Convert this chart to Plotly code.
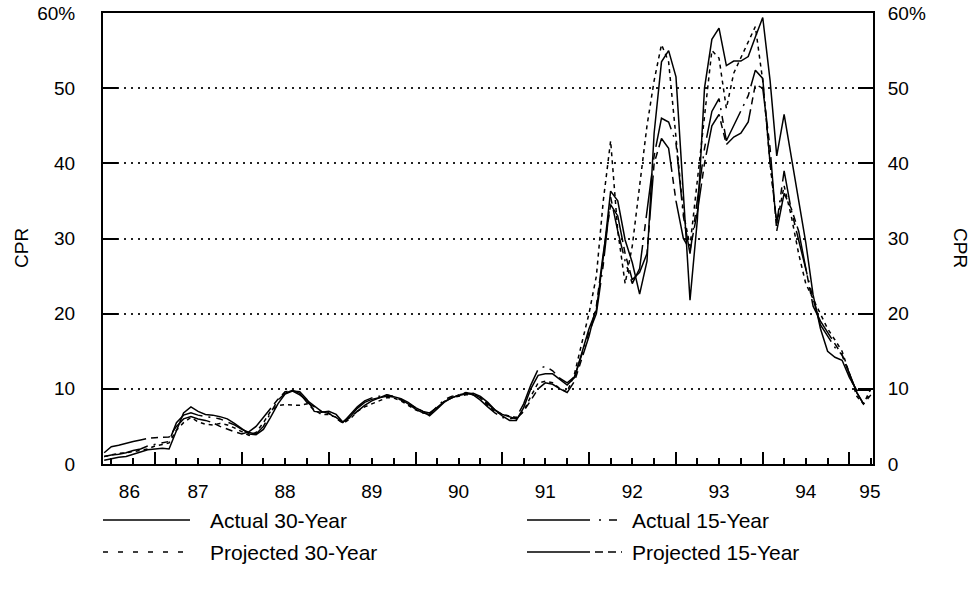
import pandas as pd
import plotly.graph_objects as go

# ---------------- data (monthly CPR, %) ----------------
months = pd.date_range("1986-06-01", "1995-04-01", freq="MS").strftime("%Y-%m-%d").tolist()

actual_30 = [0.5, 0.7, 0.9, 1.0, 1.3, 1.6, 1.9, 2.0, 2.1, 2.0, 4.5, 6.8, 7.6, 7.0, 6.6, 6.5, 6.3, 6.0, 5.4,
             4.7, 4.0, 3.9, 4.6, 6.2, 8.0, 9.3, 9.7, 9.6, 8.6, 7.0, 6.9, 7.0, 6.6, 5.6, 6.3, 7.4, 8.2, 8.6,
             8.8, 9.2, 9.0, 8.7, 8.2, 7.5, 7.0, 6.4, 7.3, 8.2, 8.8, 9.1, 9.3, 9.4, 9.0, 8.2, 7.2, 6.4, 5.8,
             5.8, 7.5, 10.0, 11.8, 12.0, 12.0, 11.2, 10.5, 11.5, 14.8, 18.0, 20.5, 27.5, 36.3, 35.0, 29.8,
             26.8, 22.6, 27.0, 44.0, 53.5, 55.0, 51.5, 36.0, 21.8, 32.5, 50.0, 56.5, 58.0, 53.0, 53.6, 53.6,
             54.2, 56.8, 59.4, 51.0, 41.0, 46.5, 41.0, 35.5, 29.5, 22.5, 18.0, 15.0, 14.2, 13.8, 11.5, 9.8,
             9.8, 9.8]

projected_30 = [1.0, 1.2, 1.4, 1.5, 1.6, 1.8, 2.0, 2.4, 2.6, 2.8, 4.5, 5.5, 6.2, 5.6, 5.3, 5.2, 5.4, 5.2, 4.8,
                4.3, 3.8, 4.2, 5.5, 7.0, 7.8, 7.9, 7.8, 7.8, 8.0, 7.2, 6.6, 6.6, 6.2, 5.4, 6.0, 7.0, 7.6, 8.0,
                8.4, 8.8, 8.8, 8.4, 7.8, 7.2, 6.8, 6.6, 7.4, 8.3, 8.8, 9.0, 9.2, 9.2, 8.8, 7.8, 7.0, 6.6, 6.4,
                6.2, 7.0, 9.0, 10.8, 11.0, 10.8, 10.0, 9.6, 12.0, 16.0, 20.0, 25.0, 35.0, 43.0, 31.0, 24.0,
                29.0, 37.0, 45.0, 51.0, 55.8, 53.5, 43.0, 33.4, 29.0, 38.0, 46.0, 55.0, 54.0, 47.3, 52.0,
                54.0, 56.0, 58.2, 51.0, 40.0, 32.0, 37.0, 33.0, 28.0, 24.0, 22.0, 20.0, 18.0, 16.5, 15.0,
                12.0, 9.0, 8.0, 10.0]

actual_15 = [1.0, 1.2, 1.3, 1.5, 1.8, 2.0, 2.4, 2.6, 2.8, 3.0, 5.5, 6.5, 6.8, 6.5, 6.3, 6.2, 6.0, 5.6, 5.2,
             4.6, 4.2, 4.0, 5.0, 6.8, 8.5, 9.4, 9.8, 9.4, 8.2, 7.6, 7.0, 6.8, 6.0, 5.5, 6.5, 7.6, 8.4, 8.8,
             9.0, 9.2, 9.0, 8.6, 8.0, 7.3, 6.8, 6.6, 7.6, 8.5, 9.0, 9.2, 9.4, 9.2, 8.5, 7.6, 6.8, 6.2, 6.0,
             6.2, 8.0, 10.5, 12.6, 13.0, 12.4, 11.4, 10.8, 11.6, 14.5, 17.5, 20.0, 26.5, 35.5, 31.0, 27.0,
             24.0, 26.0, 34.0, 41.0, 46.0, 45.5, 42.7, 33.0, 28.0, 35.0, 42.0, 46.9, 48.6, 43.0, 45.0,
             46.9, 49.0, 52.4, 51.3, 40.0, 32.0, 39.0, 33.8, 29.8, 25.8, 22.0, 18.5, 17.0, 15.5, 14.5,
             12.0, 9.5, 8.0, 9.5]

projected_15 = [1.5, 2.3, 2.5, 2.8, 3.0, 3.2, 3.4, 3.5, 3.5, 3.6, 5.0, 6.0, 6.3, 6.0, 5.8, 5.5, 5.0, 4.6, 4.3,
                4.0, 4.3, 5.0, 6.2, 7.5, 8.6, 9.6, 9.7, 9.2, 8.5, 7.7, 7.0, 6.7, 6.2, 5.5, 6.2, 7.0, 7.8, 8.4,
                8.8, 9.0, 8.9, 8.5, 8.0, 7.5, 7.0, 6.8, 7.5, 8.3, 8.8, 9.2, 9.5, 9.3, 8.8, 8.0, 7.2, 6.6, 6.3,
                6.0, 7.0, 8.5, 10.0, 10.8, 10.6, 10.0, 9.5, 11.0, 14.0, 17.0, 21.0, 28.0, 34.5, 33.0, 28.0,
                24.5, 25.5, 28.0, 40.0, 43.3, 42.0, 35.0, 30.0, 28.5, 33.5, 40.0, 45.0, 46.5, 42.5, 43.5,
                44.0, 45.5, 50.5, 50.0, 42.0, 31.0, 36.0, 34.0, 31.0, 26.0, 21.0, 19.0, 17.5, 16.0, 14.5,
                12.0, 9.5, 8.0, 9.2]

series_names = ["Actual 30-Year", "Projected 30-Year", "Actual 15-Year", "Projected 15-Year"]
series_values = [actual_30, projected_30, actual_15, projected_15]

year_label_dates = ["1986-09-15", "1987-07-01", "1988-07-01", "1989-07-01", "1990-07-01",
                    "1991-07-01", "1992-07-01", "1993-07-01", "1994-07-01", "1995-03-28"]
year_labels = ["86", "87", "88", "89", "90", "91", "92", "93", "94", "95"]
year_starts = [f"{y}-01-01" for y in range(1987, 1996)]
y_ticks = [0, 10, 20, 30, 40, 50, 60]
y_ticktext = ["0", "10", "20", "30", "40", "50", "60%"]
axis_title = "CPR"

# ---------------- styles ----------------
FONT = "Liberation Sans, Arial, Helvetica, sans-serif"
dashes = {
    "Actual 30-Year": "solid",
    "Projected 30-Year": "4px,4px",
    "Actual 15-Year": "45px,6px,2px,6px,7px,6px",
    "Projected 15-Year": "45px,5px,7px,5px,7px,5px",
}
legend_dashes = {
    "Actual 30-Year": "solid",
    "Projected 30-Year": "5px,10px",
    "Actual 15-Year": "63px,9px,2px,8px,8px,40px",
    "Projected 15-Year": "63px,5px,8px,5px,8px,5px,8px,40px",
}

X_RANGE = ["1986-05-27", "1995-04-10"]

fig = go.Figure()
for name, vals in zip(series_names, series_values):
    assert len(vals) == len(months), (name, len(vals))
    fig.add_trace(go.Scatter(
        x=months, y=vals, mode="lines", name=name, showlegend=False,
        line=dict(color="black", width=1.5, dash=dashes[name]),
    ))

# invisible trace to activate the right-hand axis
fig.add_trace(go.Scatter(x=[months[0]], y=[0], yaxis="y2", mode="markers",
                         marker=dict(opacity=0), showlegend=False, hoverinfo="skip"))
# invisible trace for the year-label axis
fig.add_trace(go.Scatter(x=[months[0]], y=[0], xaxis="x2", mode="markers",
                         marker=dict(opacity=0), showlegend=False, hoverinfo="skip"))

axis_font = dict(family=FONT, size=19, color="black")

fig.update_layout(
    width=979, height=598,
    margin=dict(l=103, r=106, t=13, b=134, autoexpand=False),
    paper_bgcolor="white", plot_bgcolor="white",
    font=dict(family=FONT, size=19, color="black"),
    showlegend=False,
    xaxis=dict(
        type="date", range=X_RANGE,
        tickmode="array", tickvals=year_starts, showticklabels=False,
        ticks="inside", ticklen=12, tickwidth=1.5, tickcolor="black",
        minor=dict(ticks="inside", ticklen=6, tickwidth=1.5, tickcolor="black",
                   dtick="M3", tick0="1986-01-01", showgrid=False),
        showgrid=False, zeroline=False,
        showline=True, linecolor="black", linewidth=2, mirror=True,
    ),
    xaxis2=dict(
        type="date", range=X_RANGE, overlaying="x", anchor="y", side="bottom",
        tickmode="array", tickvals=year_label_dates, ticktext=year_labels,
        ticks="", showgrid=False, showline=False, zeroline=False,
        tickfont=axis_font, ticklabelstandoff=14,
    ),
    yaxis=dict(
        range=[0, 60], tickmode="array", tickvals=y_ticks, ticktext=y_ticktext,
        ticks="inside", ticklen=15, tickwidth=1.5, tickcolor="black",
        showgrid=True, gridcolor="#222222", gridwidth=1.5, griddash="2px,5px",
        zeroline=False, showline=True, linecolor="black", linewidth=2,
        tickfont=axis_font, ticklabelstandoff=22,
    ),
    yaxis2=dict(
        range=[0, 60], overlaying="y", side="right", anchor="x",
        tickmode="array", tickvals=y_ticks, ticktext=y_ticktext,
        ticks="inside", ticklen=15, tickwidth=1.5, tickcolor="black",
        showgrid=False, zeroline=False, showline=True, linecolor="black", linewidth=2,
        tickfont=axis_font, ticklabelstandoff=9,
    ),
)


def px_x(p):
    return (p - 103) / 770


def px_y(p):
    return (464 - p) / 451


# axis titles: left reads bottom-to-top, right reads top-to-bottom
fig.add_annotation(text=axis_title, xref="paper", yref="paper", x=px_x(22), y=px_y(248),
                   showarrow=False, textangle=-90, font=axis_font, xanchor="center", yanchor="middle")
fig.add_annotation(text=axis_title, xref="paper", yref="paper", x=px_x(960), y=px_y(248),
                   showarrow=False, textangle=90, font=axis_font, xanchor="center", yanchor="middle")

# ---------------- manual legend ----------------
legend_layout = [
    ("Actual 30-Year", 103, 190, 208, 520),
    ("Projected 30-Year", 103, 190, 208, 552),
    ("Actual 15-Year", 527, 622, 630, 520),
    ("Projected 15-Year", 527, 622, 630, 552),
]
for name, x0, x1, tx, yy in legend_layout:
    fig.add_shape(type="line", xref="paper", yref="paper",
                  x0=px_x(x0), x1=px_x(x1), y0=px_y(yy), y1=px_y(yy),
                  line=dict(color="black", width=1.5, dash=legend_dashes[name]))
    fig.add_annotation(text=name, xref="paper", yref="paper", x=px_x(tx), y=px_y(yy),
                       xanchor="left", yanchor="middle", showarrow=False,
                       font=dict(family=FONT, size=21, color="black"))

fig.write_html("out.html", config={"displayModeBar": False},
               post_script="document.body.style.margin='0';document.body.style.padding='0';")
